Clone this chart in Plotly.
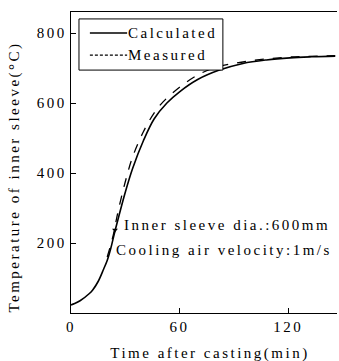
import plotly.graph_objects as go

calc_t = [0, 2, 5, 10, 12, 15, 18, 20, 22, 24, 26, 30, 34, 40, 46, 53, 60, 70, 82, 95, 108, 121, 133, 146]
calc_T = [23, 27, 35, 55, 66, 90, 125, 150, 185, 228, 268, 345, 412, 492, 555, 600, 632, 667, 694, 713, 723, 729, 732, 734]

meas_t = [20, 23, 26, 30, 34, 40, 46, 51, 60, 70, 80, 90, 100, 110, 120, 130, 146]
meas_T = [160, 215, 290, 375, 445, 518, 572, 604, 645, 680, 702, 713, 721, 727, 731, 733, 735]

marker_t = [24.3]
marker_T = [237]

series_names = ["Calculated", "Measured"]
x_ticks = [0, 60, 120]
y_ticks = [200, 400, 600, 800]
x_title = "Time after casting(min)"
y_title = "Temperature of inner sleeve(°C)"
note_lines = ["Inner sleeve dia.:600mm", "Cooling air velocity:1m/s"]

font = "Liberation Serif, Times New Roman, serif"
fs = 15

fig = go.Figure()
fig.add_trace(go.Scatter(x=calc_t, y=calc_T, mode="lines", name=series_names[0],
                         line=dict(color="black", width=1.6, shape="spline")))
fig.add_trace(go.Scatter(x=meas_t, y=meas_T, mode="lines", name=series_names[1],
                         line=dict(color="black", width=1.3, dash="dash", shape="spline")))
fig.add_trace(go.Scatter(x=marker_t, y=marker_T, mode="markers", showlegend=False,
                         marker=dict(symbol="triangle-down", size=5, color="black")))

shapes = [
    dict(type="rect", xref="paper", yref="paper", x0=0.030, x1=0.571, y0=0.807, y1=0.977,
         line=dict(color="black", width=1), fillcolor="white", layer="above"),
    dict(type="line", xref="paper", yref="paper", x0=0.071, x1=0.211, y0=0.930, y1=0.930,
         line=dict(color="black", width=1.6), layer="above"),
    dict(type="line", xref="paper", yref="paper", x0=0.071, x1=0.211, y0=0.857, y1=0.857,
         line=dict(color="black", width=1.2, dash="3px,2px"), layer="above"),
]

annotations = [
    dict(x=0.207, y=0.930, xref="paper", yref="paper", xanchor="left", yanchor="middle",
         align="left", text=series_names[0], showarrow=False, font=dict(size=fs)),
    dict(x=0.207, y=0.857, xref="paper", yref="paper", xanchor="left", yanchor="middle",
         align="left", text=series_names[1], showarrow=False, font=dict(size=fs)),
    dict(x=0.192, y=0.292, xref="paper", yref="paper", xanchor="left", yanchor="middle",
         align="left", text=note_lines[0], showarrow=False, font=dict(size=fs)),
    dict(x=0.162, y=0.209, xref="paper", yref="paper", xanchor="left", yanchor="middle",
         align="left", text=note_lines[1], showarrow=False, font=dict(size=fs)),
    dict(x=0.523, y=-0.133, xref="paper", yref="paper", xanchor="center", yanchor="middle",
         text=x_title, showarrow=False, font=dict(size=fs)),
    dict(x=-0.211, y=0.452, xref="paper", yref="paper", xanchor="center", yanchor="middle",
         text=y_title, textangle=-90, showarrow=False, font=dict(size=fs)),
]

fig.update_layout(
    width=339, height=361,
    margin=dict(l=71, r=2, t=12, b=48, autoexpand=False),
    paper_bgcolor="white", plot_bgcolor="white",
    font=dict(family=font, color="black", size=fs),
    showlegend=False,
    xaxis=dict(range=[0, 147], tickvals=x_ticks, ticks="inside", ticklen=5,
               tickcolor="black", showline=True, linecolor="black", linewidth=1.3,
               mirror=True, showgrid=False, zeroline=False, automargin=False,
               tickfont=dict(size=fs)),
    yaxis=dict(range=[0, 860], tickvals=y_ticks, ticks="inside", ticklen=5,
               tickcolor="black", showline=True, linecolor="black", linewidth=1.3,
               showgrid=False, zeroline=False, automargin=False,
               tickfont=dict(size=fs)),
    shapes=shapes,
    annotations=annotations,
)

post = """
var s = document.createElement('style');
s.innerHTML = '.main-svg text { letter-spacing: 2.5px; }';
document.head.appendChild(s);
"""

fig.write_html("out.html", post_script=post)
